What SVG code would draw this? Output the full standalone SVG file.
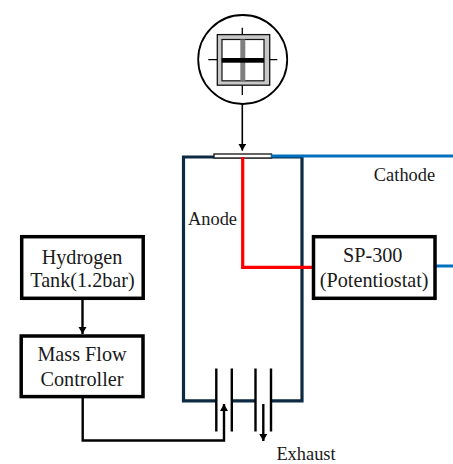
<svg xmlns="http://www.w3.org/2000/svg" width="453" height="464" viewBox="0 0 453 464">
<style>
text{font-family:"Liberation Serif","Times New Roman",serif;fill:#1a1a1a;text-anchor:middle}
.b{fill:#fff;stroke:#000;stroke-width:3.500}
.t{font-size:20.200px}
.s{font-size:18.400px}
.c{fill:none;stroke-linejoin:miter}
.k{stroke:#000;stroke-width:2.400}
.w{stroke:#000;stroke-width:2.400;fill:none}
</style>
<defs>
<marker id="a" markerUnits="userSpaceOnUse" markerWidth="10" markerHeight="10" refX="7" refY="4" orient="auto"><path d="M0 0L7 4L0 8Z" fill="#000"/></marker>
</defs>
<rect width="453" height="464" fill="#fff"/>
<g id="cell">
<path class="c" d="M216 400.800H183.500V157H302V400.800H271M256 400.800H231" stroke="#0c2a42" stroke-width="3.200"/>
<rect x="214" y="154" width="57.500" height="4" fill="#fff" stroke="#222" stroke-width="1.400"/>
</g>
<g id="ports" class="w">
<path d="M216.300 368.500V431.500M231.800 368.500V431.500M255.500 368.500V431.500M271 368.500V431.500"/>
</g>
<g id="magnifier">
<circle cx="242.700" cy="59.500" r="44.500" fill="#fff" stroke="#000" stroke-width="1.800"/>
<path d="M242.300 27.700V95M208.300 59.700H277.300" stroke="#000" stroke-width="1.300"/>
<rect x="217.300" y="34.600" width="52.400" height="50.600" fill="#c8c8c8" stroke="#111" stroke-width="1.300"/>
<rect x="222" y="39.500" width="42" height="41.300" fill="#fff" stroke="#111" stroke-width="1.200"/>
<rect x="240.300" y="39.500" width="5" height="41.300" fill="#808080"/>
<rect x="221.700" y="58" width="42.300" height="4.700" fill="#000"/>
</g>
<g id="connectors">
<path class="c" d="M242.300 104V150.700" marker-end="url(#a)" stroke="#000" stroke-width="1.600"/>
<path class="c" d="M242.700 157V267.300H313" stroke="#f00" stroke-width="3.200"/>
<path class="c" d="M271 156H453" stroke="#0070c0" stroke-width="3"/>
<path class="c" d="M436 266H453" stroke="#0070c0" stroke-width="3"/>
<path class="c k" d="M82.500 300V334" marker-end="url(#a)"/>
<path class="c k" d="M82.700 398V440.500H224V404" marker-end="url(#a)"/>
<path class="c k" d="M263.300 404V441" marker-end="url(#a)"/>
</g>
<g id="tank"><rect class="b" x="21.700" y="236.700" width="121.500" height="61.600"/>
<text class="t" x="82" y="264">Hydrogen</text><text class="t" x="82.500" y="287">Tank(1.2bar)</text></g>
<g id="mfc"><rect class="b" x="21.200" y="336" width="121.800" height="60.600"/>
<text class="t" x="82" y="361">Mass Flow</text><text class="t" x="82" y="386">Controller</text></g>
<g id="sp300"><rect class="b" x="313.500" y="236.700" width="121.500" height="61.600"/>
<text class="t" x="372.700" y="262">SP-300</text><text class="t" x="374.200" y="287">(Potentiostat)</text></g>
<text class="s" x="404.500" y="181">Cathode</text>
<text class="s" x="212.500" y="225">Anode</text>
<text class="s" x="306" y="459.500">Exhaust</text>
</svg>
